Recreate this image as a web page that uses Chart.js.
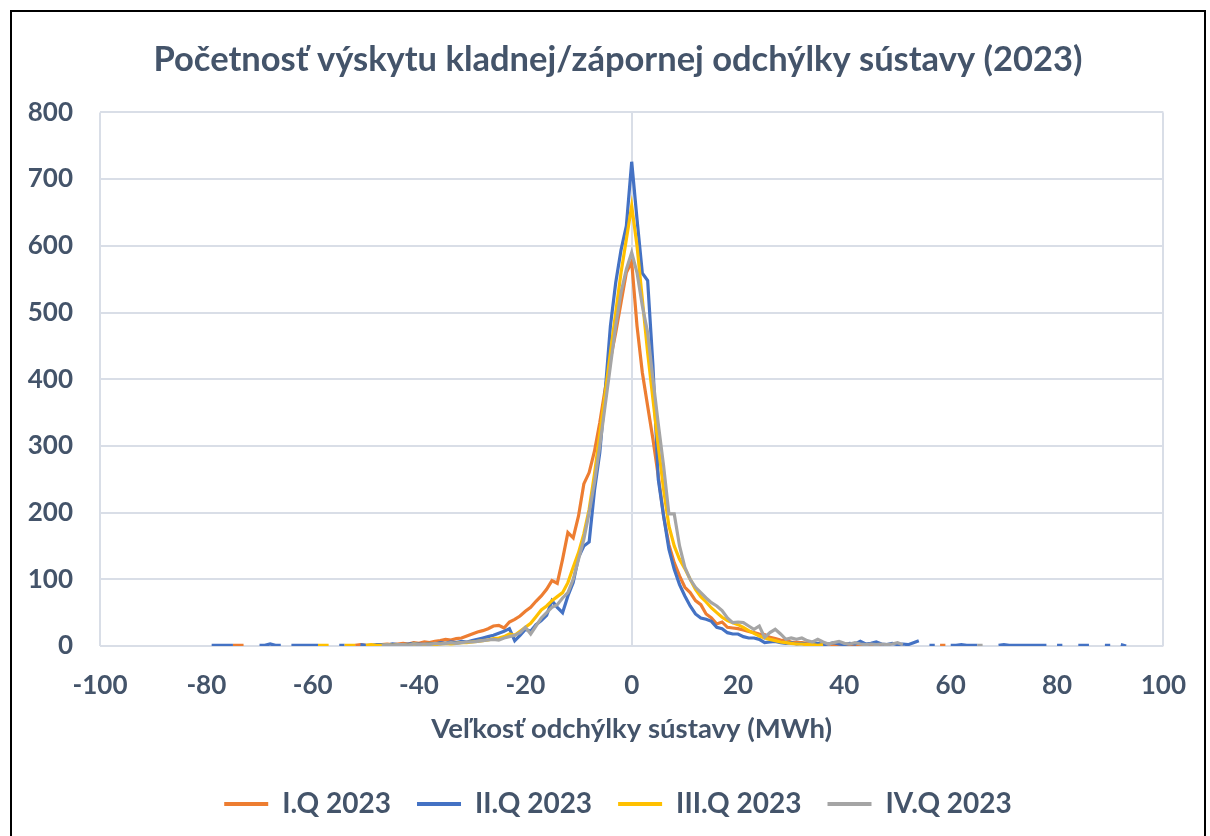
<!DOCTYPE html>
<html>
<head>
<meta charset="utf-8">
<script src="https://cdn.jsdelivr.net/npm/chart.js@4/dist/chart.umd.min.js"></script>
<style>
html,body{margin:0;padding:0;background:#fff;width:1210px;height:836px;overflow:hidden;}
#wrap{position:absolute;left:0;top:0;width:1210px;height:836px;}
#frame{position:absolute;left:10px;top:10px;width:1196px;height:850px;border:2px solid #000;box-sizing:border-box;pointer-events:none;}
</style>
</head>
<body>
<div id="wrap"><canvas id="c" width="1210" height="836"></canvas></div>
<div id="frame"></div>
<script>
// deviation bins (MWh), -80 .. 93
const deviation = [
  -80,-79,-78,-77,-76,-75,-74,-73,-72,-71,
  -70,-69,-68,-67,-66,-65,-64,-63,-62,-61,
  -60,-59,-58,-57,-56,-55,-54,-53,-52,-51,
  -50,-49,-48,-47,-46,-45,-44,-43,-42,-41,
  -40,-39,-38,-37,-36,-35,-34,-33,-32,-31,
  -30,-29,-28,-27,-26,-25,-24,-23,-22,-21,
  -20,-19,-18,-17,-16,-15,-14,-13,-12,-11,
  -10,-9,-8,-7,-6,-5,-4,-3,-2,-1,
  0,1,2,3,4,5,6,7,8,9,
  10,11,12,13,14,15,16,17,18,19,
  20,21,22,23,24,25,26,27,28,29,
  30,31,32,33,34,35,36,37,38,39,
  40,41,42,43,44,45,46,47,48,49,
  50,51,52,53,54,55,56,57,58,59,
  60,61,62,63,64,65,66,67,68,69,
  70,71,72,73,74,75,76,77,78,79,
  80,81,82,83,84,85,86,87,88,89,
  90,91,92,93
];
const N = null;
const q1 = [
  N,N,N,N,N,1,1,1,N,N,
  N,N,N,N,N,N,N,N,N,N,
  N,N,N,N,N,N,N,N,1,2,
  1,N,1,2,3,2,3,4,3,5,
  4,6,5,7,8,10,9,11,12,15,
  18,21,23,26,30,31,27,36,40,45,
  52,58,67,75,85,98,94,130,170,162,
  195,243,260,292,335,385,430,470,515,560,
  576,480,410,360,310,255,195,152,125,105,
  88,80,68,62,48,42,33,36,28,27,
  26,24,22,20,18,17,13,11,9,8,
  6,5,5,4,3,3,2,3,2,2,
  1,2,1,1,2,1,1,1,N,N,
  N,N,N,N,N,N,N,N,1,1,
  N,N,N,N,N,N,N,N,N,N,
  N,N,N,N,N,N,N,N,N,N,
  N,N,N,N,N,N,N,N,N,N,
  N,N,N,N
];
const q2 = [
  N,1,1,1,1,1,N,N,N,N,
  1,1,3,1,1,N,1,1,1,1,
  1,1,N,N,N,1,1,N,N,2,
  1,1,2,2,1,3,2,2,3,4,
  3,2,4,3,5,4,6,5,7,6,
  8,10,12,14,16,19,22,26,8,16,
  25,22,32,38,46,68,58,50,75,95,
  133,150,156,233,290,380,480,545,594,630,
  726,640,559,548,420,250,195,145,115,92,
  75,60,48,42,40,37,28,26,20,18,
  18,14,12,12,10,5,6,7,5,4,
  5,3,4,2,3,4,2,3,5,3,
  2,4,3,7,3,4,6,3,2,4,
  2,3,2,5,8,N,1,1,N,N,
  1,1,2,1,1,1,N,N,N,1,
  2,1,1,1,1,1,1,1,1,N,
  1,1,N,N,1,1,1,N,N,1,
  1,N,2,0
];
const q3 = [
  N,N,N,N,N,N,N,N,N,N,
  N,N,N,N,N,N,N,N,N,N,
  N,1,1,1,N,N,1,1,1,N,
  1,2,1,1,2,1,2,2,1,3,
  2,2,3,2,3,4,3,4,5,5,
  6,7,8,9,11,12,14,18,16,22,
  28,34,44,54,60,68,74,80,95,118,
  140,168,205,258,318,378,440,500,560,610,
  660,600,520,440,370,300,235,180,150,130,
  116,100,85,74,66,57,50,43,38,35,
  32,28,23,19,15,12,10,8,6,5,
  4,3,3,2,2,1,2,N,N,N,
  N,N,N,N,N,N,N,N,N,N,
  N,N,N,N,N,N,N,N,N,N,
  N,N,N,N,N,N,N,N,N,N,
  N,N,N,N,N,N,N,N,N,N,
  N,N,N,N,N,N,N,N,N,N,
  N,N,N,N
];
const q4 = [
  N,N,N,N,N,N,N,N,N,N,
  N,N,N,N,N,N,N,N,N,N,
  N,N,N,N,N,N,N,N,N,N,
  N,N,N,1,2,1,2,2,1,3,
  2,3,2,4,3,4,5,4,5,6,
  6,7,8,9,10,9,12,14,16,20,
  28,18,30,42,50,58,62,72,80,100,
  130,160,200,245,300,360,420,480,530,565,
  590,560,510,470,400,333,270,198,198,150,
  118,100,88,80,72,65,60,53,42,35,
  36,35,30,25,30,13,20,25,18,10,
  12,10,12,8,6,10,6,3,5,7,
  4,3,5,3,2,3,2,3,2,3,
  5,2,N,N,N,N,N,N,N,N,
  N,N,N,N,N,1,1,N,N,N,
  N,N,N,N,N,N,N,N,N,N,
  N,N,N,N,N,N,N,N,N,N,
  N,N,N,N
];
const seriesNames = ['I.Q 2023','II.Q 2023','III.Q 2023','IV.Q 2023'];
const seriesColors = ['#ED7D31','#4472C4','#FFC000','#A5A5A5'];
const xTicks = [-100,-80,-60,-40,-20,0,20,40,60,80,100];
const yTicks = [0,100,200,300,400,500,600,700,800];
const titleText = 'Početnosť výskytu kladnej/zápornej odchýlky sústavy (2023)';
const xTitle = 'Veľkosť odchýlky sústavy (MWh)';

const TXT = '#44546A';
const GRID = '#d9dee7';
const FONT = 'Lato';
const allSeries = [q1,q2,q3,q4];

const datasets = allSeries.map((vals, k) => ({
  label: seriesNames[k],
  data: deviation.map((x, i) => ({x: x, y: vals[i]})),
  borderColor: seriesColors[k],
  backgroundColor: seriesColors[k],
  borderWidth: 3.2,
  pointRadius: 0,
  tension: 0,
  spanGaps: false,
  order: 4 - k
}));

new Chart(document.getElementById('c'), {
  type: 'line',
  data: { datasets },
  options: {
    responsive: false,
    animation: false,
    layout: { padding: { left: 26, right: 0, top: 0, bottom: 8 } },
    plugins: {
      title: {
        display: true, text: titleText, color: TXT,
        font: { family: FONT, size: 34.5, weight: 'bold' },
        padding: { top: 39, bottom: 32 }
      },
      legend: {
        position: 'bottom',
        labels: {
          color: TXT,
          font: { family: FONT, size: 28, weight: 'bold' },
          boxWidth: 44, boxHeight: 4, padding: 26,
          sort: (a, b) => a.datasetIndex - b.datasetIndex,
          generateLabels: (chart) => Chart.defaults.plugins.legend.labels.generateLabels(chart).map(it => Object.assign(it, {lineWidth: 0, fillStyle: seriesColors[it.datasetIndex]}))
        }
      },
      tooltip: { enabled: false }
    },
    scales: {
      x: {
        type: 'linear', min: -100, max: 100,
        afterBuildTicks: s => { s.ticks = xTicks.map(v => ({value: v})); },
        ticks: { color: TXT, font: { family: FONT, size: 26, weight: 'bold' }, padding: 24, maxRotation: 0 },
        grid: {
          drawTicks: false, lineWidth: 2,
          color: ctx => (ctx.tick && (ctx.tick.value === 0 || Math.abs(ctx.tick.value) === 100)) ? GRID : 'rgba(0,0,0,0)'
        },
        border: { display: false },
        title: { display: true, text: xTitle, color: TXT, font: { family: FONT, size: 27.5, weight: 'bold' }, padding: { top: 8, bottom: 18 } },
        afterFit: s => { s.height = 118; }
      },
      y: {
        min: 0, max: 800,
        afterBuildTicks: s => { s.ticks = yTicks.map(v => ({value: v})); },
        ticks: { color: TXT, font: { family: FONT, size: 26, weight: 'bold' }, padding: 27 },
        grid: { drawTicks: false, lineWidth: 2, color: GRID },
        border: { display: false },
        afterFit: s => { s.width = 74; }
      },
      yRight: {
        position: 'right', display: true, min: 0, max: 800,
        ticks: { display: false },
        grid: { display: false, drawTicks: false },
        border: { display: false },
        afterFit: s => { s.width = 44; }
      }
    }
  }
});
</script>
</body>
</html>
